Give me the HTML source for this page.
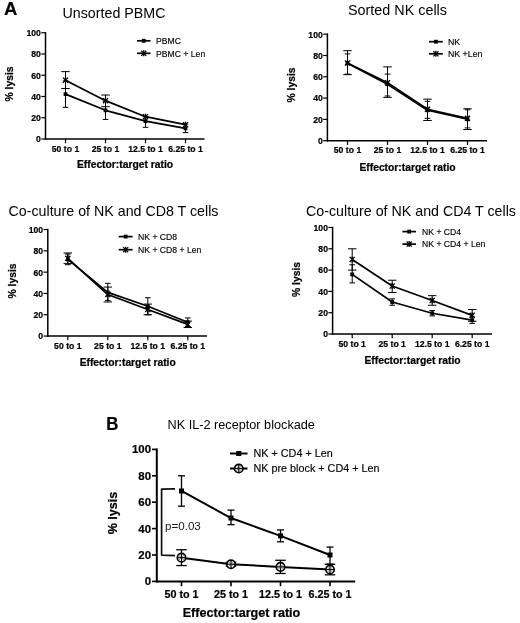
<!DOCTYPE html>
<html><head><meta charset="utf-8"><style>
text[font-weight="bold"]{stroke:#000;stroke-width:0.22px}
.lg{stroke:#000;stroke-width:0.15px}
html,body{margin:0;padding:0;background:#fff}
svg{display:block;font-family:"Liberation Sans", sans-serif;filter:grayscale(1)}
</style></head><body>
<svg width="520" height="623" viewBox="0 0 520 623">
<rect width="520" height="623" fill="#fff"/>
<line x1="45.50" y1="32.00" x2="45.50" y2="139.75" stroke="#000" stroke-width="1.5" stroke-linecap="butt"/>
<line x1="44.75" y1="139.00" x2="204.50" y2="139.00" stroke="#000" stroke-width="1.5" stroke-linecap="butt"/>
<line x1="41.25" y1="139.00" x2="45.50" y2="139.00" stroke="#000" stroke-width="1.2000000000000002" stroke-linecap="butt"/>
<text transform="translate(40.85,142.35) scale(0.93,1)" font-size="9.3" font-weight="bold" text-anchor="end" fill="#000">0</text>
<line x1="41.25" y1="117.75" x2="45.50" y2="117.75" stroke="#000" stroke-width="1.2000000000000002" stroke-linecap="butt"/>
<text transform="translate(40.85,121.10) scale(0.93,1)" font-size="9.3" font-weight="bold" text-anchor="end" fill="#000">20</text>
<line x1="41.25" y1="96.50" x2="45.50" y2="96.50" stroke="#000" stroke-width="1.2000000000000002" stroke-linecap="butt"/>
<text transform="translate(40.85,99.85) scale(0.93,1)" font-size="9.3" font-weight="bold" text-anchor="end" fill="#000">40</text>
<line x1="41.25" y1="75.25" x2="45.50" y2="75.25" stroke="#000" stroke-width="1.2000000000000002" stroke-linecap="butt"/>
<text transform="translate(40.85,78.60) scale(0.93,1)" font-size="9.3" font-weight="bold" text-anchor="end" fill="#000">60</text>
<line x1="41.25" y1="54.00" x2="45.50" y2="54.00" stroke="#000" stroke-width="1.2000000000000002" stroke-linecap="butt"/>
<text transform="translate(40.85,57.35) scale(0.93,1)" font-size="9.3" font-weight="bold" text-anchor="end" fill="#000">80</text>
<line x1="41.25" y1="32.75" x2="45.50" y2="32.75" stroke="#000" stroke-width="1.2000000000000002" stroke-linecap="butt"/>
<text transform="translate(40.85,36.10) scale(0.93,1)" font-size="9.3" font-weight="bold" text-anchor="end" fill="#000">100</text>
<line x1="65.50" y1="139.00" x2="65.50" y2="143.25" stroke="#000" stroke-width="1.2000000000000002" stroke-linecap="butt"/>
<text transform="translate(65.50,151.80) scale(0.93,1)" font-size="9.3" font-weight="bold" text-anchor="middle" fill="#000">50 to 1</text>
<line x1="105.50" y1="139.00" x2="105.50" y2="143.25" stroke="#000" stroke-width="1.2000000000000002" stroke-linecap="butt"/>
<text transform="translate(105.50,151.80) scale(0.93,1)" font-size="9.3" font-weight="bold" text-anchor="middle" fill="#000">25 to 1</text>
<line x1="145.50" y1="139.00" x2="145.50" y2="143.25" stroke="#000" stroke-width="1.2000000000000002" stroke-linecap="butt"/>
<text transform="translate(145.50,151.80) scale(0.93,1)" font-size="9.3" font-weight="bold" text-anchor="middle" fill="#000">12.5 to 1</text>
<line x1="185.50" y1="139.00" x2="185.50" y2="143.25" stroke="#000" stroke-width="1.2000000000000002" stroke-linecap="butt"/>
<text transform="translate(185.50,151.80) scale(0.93,1)" font-size="9.3" font-weight="bold" text-anchor="middle" fill="#000">6.25 to 1</text>
<text x="125.00" y="168.10" font-size="10.3" font-weight="bold" text-anchor="middle" fill="#000">Effector:target ratio</text>
<text transform="translate(13.00,84.00) rotate(-90)" font-size="10.3" font-weight="bold" text-anchor="middle">% lysis</text>
<line x1="65.50" y1="80.99" x2="65.50" y2="107.34" stroke="#000" stroke-width="1.0" stroke-linecap="butt"/>
<line x1="62.70" y1="80.99" x2="68.30" y2="80.99" stroke="#000" stroke-width="1.0" stroke-linecap="butt"/>
<line x1="62.70" y1="107.34" x2="68.30" y2="107.34" stroke="#000" stroke-width="1.0" stroke-linecap="butt"/>
<line x1="105.50" y1="101.17" x2="105.50" y2="119.45" stroke="#000" stroke-width="1.0" stroke-linecap="butt"/>
<line x1="102.70" y1="101.17" x2="108.30" y2="101.17" stroke="#000" stroke-width="1.0" stroke-linecap="butt"/>
<line x1="102.70" y1="119.45" x2="108.30" y2="119.45" stroke="#000" stroke-width="1.0" stroke-linecap="butt"/>
<line x1="145.50" y1="116.69" x2="145.50" y2="127.31" stroke="#000" stroke-width="1.0" stroke-linecap="butt"/>
<line x1="142.70" y1="116.69" x2="148.30" y2="116.69" stroke="#000" stroke-width="1.0" stroke-linecap="butt"/>
<line x1="142.70" y1="127.31" x2="148.30" y2="127.31" stroke="#000" stroke-width="1.0" stroke-linecap="butt"/>
<line x1="185.50" y1="124.12" x2="185.50" y2="132.62" stroke="#000" stroke-width="1.0" stroke-linecap="butt"/>
<line x1="182.70" y1="124.12" x2="188.30" y2="124.12" stroke="#000" stroke-width="1.0" stroke-linecap="butt"/>
<line x1="182.70" y1="132.62" x2="188.30" y2="132.62" stroke="#000" stroke-width="1.0" stroke-linecap="butt"/>
<polyline fill="none" stroke="#000" stroke-width="1.7" stroke-linejoin="round" points="65.50,94.16 105.50,110.31 145.50,121.15 185.50,128.38"/>
<rect x="63.60" y="92.26" width="3.8" height="3.8" fill="#000"/>
<rect x="103.60" y="108.41" width="3.8" height="3.8" fill="#000"/>
<rect x="143.60" y="119.25" width="3.8" height="3.8" fill="#000"/>
<rect x="183.60" y="126.47" width="3.8" height="3.8" fill="#000"/>
<line x1="65.50" y1="71.64" x2="65.50" y2="88.53" stroke="#000" stroke-width="1.0" stroke-linecap="butt"/>
<line x1="61.25" y1="71.64" x2="69.75" y2="71.64" stroke="#000" stroke-width="1.0" stroke-linecap="butt"/>
<line x1="61.25" y1="88.53" x2="69.75" y2="88.53" stroke="#000" stroke-width="1.0" stroke-linecap="butt"/>
<line x1="105.50" y1="95.01" x2="105.50" y2="106.70" stroke="#000" stroke-width="1.0" stroke-linecap="butt"/>
<line x1="101.25" y1="95.01" x2="109.75" y2="95.01" stroke="#000" stroke-width="1.0" stroke-linecap="butt"/>
<line x1="101.25" y1="106.70" x2="109.75" y2="106.70" stroke="#000" stroke-width="1.0" stroke-linecap="butt"/>
<polyline fill="none" stroke="#000" stroke-width="1.7" stroke-linejoin="round" points="65.50,80.14 105.50,100.64 145.50,116.69 185.50,124.66"/>
<line x1="65.50" y1="77.14" x2="65.50" y2="83.14" stroke="#000" stroke-width="1.3" stroke-linecap="butt"/>
<line x1="62.95" y1="77.59" x2="68.05" y2="82.69" stroke="#000" stroke-width="1.3" stroke-linecap="butt"/>
<line x1="62.95" y1="82.69" x2="68.05" y2="77.59" stroke="#000" stroke-width="1.3" stroke-linecap="butt"/>
<line x1="105.50" y1="97.64" x2="105.50" y2="103.64" stroke="#000" stroke-width="1.3" stroke-linecap="butt"/>
<line x1="102.95" y1="98.09" x2="108.05" y2="103.19" stroke="#000" stroke-width="1.3" stroke-linecap="butt"/>
<line x1="102.95" y1="103.19" x2="108.05" y2="98.09" stroke="#000" stroke-width="1.3" stroke-linecap="butt"/>
<line x1="145.50" y1="113.69" x2="145.50" y2="119.69" stroke="#000" stroke-width="1.3" stroke-linecap="butt"/>
<line x1="142.95" y1="114.14" x2="148.05" y2="119.24" stroke="#000" stroke-width="1.3" stroke-linecap="butt"/>
<line x1="142.95" y1="119.24" x2="148.05" y2="114.14" stroke="#000" stroke-width="1.3" stroke-linecap="butt"/>
<line x1="185.50" y1="121.66" x2="185.50" y2="127.66" stroke="#000" stroke-width="1.3" stroke-linecap="butt"/>
<line x1="182.95" y1="122.11" x2="188.05" y2="127.21" stroke="#000" stroke-width="1.3" stroke-linecap="butt"/>
<line x1="182.95" y1="127.21" x2="188.05" y2="122.11" stroke="#000" stroke-width="1.3" stroke-linecap="butt"/>
<line x1="137.00" y1="40.80" x2="150.50" y2="40.80" stroke="#000" stroke-width="1.7" stroke-linecap="butt"/>
<rect x="141.85" y="38.90" width="3.8" height="3.8" fill="#000"/>
<text transform="translate(156.00,44.18) scale(0.92,1)" font-size="9.4" font-weight="normal" text-anchor="start" fill="#000" class="lg">PBMC</text>
<line x1="137.00" y1="53.30" x2="150.50" y2="53.30" stroke="#000" stroke-width="1.7" stroke-linecap="butt"/>
<line x1="143.75" y1="50.30" x2="143.75" y2="56.30" stroke="#000" stroke-width="1.3" stroke-linecap="butt"/>
<line x1="141.20" y1="50.75" x2="146.30" y2="55.85" stroke="#000" stroke-width="1.3" stroke-linecap="butt"/>
<line x1="141.20" y1="55.85" x2="146.30" y2="50.75" stroke="#000" stroke-width="1.3" stroke-linecap="butt"/>
<text transform="translate(156.00,56.68) scale(0.92,1)" font-size="9.4" font-weight="normal" text-anchor="start" fill="#000" class="lg">PBMC + Len</text>
<line x1="327.40" y1="33.45" x2="327.40" y2="141.45" stroke="#000" stroke-width="1.5" stroke-linecap="butt"/>
<line x1="326.65" y1="140.70" x2="487.00" y2="140.70" stroke="#000" stroke-width="1.5" stroke-linecap="butt"/>
<line x1="323.15" y1="140.70" x2="327.40" y2="140.70" stroke="#000" stroke-width="1.2000000000000002" stroke-linecap="butt"/>
<text transform="translate(322.75,144.05) scale(0.93,1)" font-size="9.3" font-weight="bold" text-anchor="end" fill="#000">0</text>
<line x1="323.15" y1="119.40" x2="327.40" y2="119.40" stroke="#000" stroke-width="1.2000000000000002" stroke-linecap="butt"/>
<text transform="translate(322.75,122.75) scale(0.93,1)" font-size="9.3" font-weight="bold" text-anchor="end" fill="#000">20</text>
<line x1="323.15" y1="98.10" x2="327.40" y2="98.10" stroke="#000" stroke-width="1.2000000000000002" stroke-linecap="butt"/>
<text transform="translate(322.75,101.45) scale(0.93,1)" font-size="9.3" font-weight="bold" text-anchor="end" fill="#000">40</text>
<line x1="323.15" y1="76.80" x2="327.40" y2="76.80" stroke="#000" stroke-width="1.2000000000000002" stroke-linecap="butt"/>
<text transform="translate(322.75,80.15) scale(0.93,1)" font-size="9.3" font-weight="bold" text-anchor="end" fill="#000">60</text>
<line x1="323.15" y1="55.50" x2="327.40" y2="55.50" stroke="#000" stroke-width="1.2000000000000002" stroke-linecap="butt"/>
<text transform="translate(322.75,58.85) scale(0.93,1)" font-size="9.3" font-weight="bold" text-anchor="end" fill="#000">80</text>
<line x1="323.15" y1="34.20" x2="327.40" y2="34.20" stroke="#000" stroke-width="1.2000000000000002" stroke-linecap="butt"/>
<text transform="translate(322.75,37.55) scale(0.93,1)" font-size="9.3" font-weight="bold" text-anchor="end" fill="#000">100</text>
<line x1="347.50" y1="140.70" x2="347.50" y2="144.95" stroke="#000" stroke-width="1.2000000000000002" stroke-linecap="butt"/>
<text transform="translate(347.50,153.20) scale(0.93,1)" font-size="9.3" font-weight="bold" text-anchor="middle" fill="#000">50 to 1</text>
<line x1="387.50" y1="140.70" x2="387.50" y2="144.95" stroke="#000" stroke-width="1.2000000000000002" stroke-linecap="butt"/>
<text transform="translate(387.50,153.20) scale(0.93,1)" font-size="9.3" font-weight="bold" text-anchor="middle" fill="#000">25 to 1</text>
<line x1="427.50" y1="140.70" x2="427.50" y2="144.95" stroke="#000" stroke-width="1.2000000000000002" stroke-linecap="butt"/>
<text transform="translate(427.50,153.20) scale(0.93,1)" font-size="9.3" font-weight="bold" text-anchor="middle" fill="#000">12.5 to 1</text>
<line x1="467.50" y1="140.70" x2="467.50" y2="144.95" stroke="#000" stroke-width="1.2000000000000002" stroke-linecap="butt"/>
<text transform="translate(467.50,153.20) scale(0.93,1)" font-size="9.3" font-weight="bold" text-anchor="middle" fill="#000">6.25 to 1</text>
<text x="407.50" y="170.50" font-size="10.3" font-weight="bold" text-anchor="middle" fill="#000">Effector:target ratio</text>
<text transform="translate(294.50,85.00) rotate(-90)" font-size="10.3" font-weight="bold" text-anchor="middle">% lysis</text>
<line x1="347.50" y1="53.90" x2="347.50" y2="74.14" stroke="#000" stroke-width="1.0" stroke-linecap="butt"/>
<line x1="344.70" y1="53.90" x2="350.30" y2="53.90" stroke="#000" stroke-width="1.0" stroke-linecap="butt"/>
<line x1="344.70" y1="74.14" x2="350.30" y2="74.14" stroke="#000" stroke-width="1.0" stroke-linecap="butt"/>
<line x1="387.50" y1="74.14" x2="387.50" y2="95.97" stroke="#000" stroke-width="1.0" stroke-linecap="butt"/>
<line x1="384.70" y1="74.14" x2="390.30" y2="74.14" stroke="#000" stroke-width="1.0" stroke-linecap="butt"/>
<line x1="384.70" y1="95.97" x2="390.30" y2="95.97" stroke="#000" stroke-width="1.0" stroke-linecap="butt"/>
<line x1="427.50" y1="101.29" x2="427.50" y2="118.33" stroke="#000" stroke-width="1.0" stroke-linecap="butt"/>
<line x1="424.70" y1="101.29" x2="430.30" y2="101.29" stroke="#000" stroke-width="1.0" stroke-linecap="butt"/>
<line x1="424.70" y1="118.33" x2="430.30" y2="118.33" stroke="#000" stroke-width="1.0" stroke-linecap="butt"/>
<line x1="467.50" y1="109.81" x2="467.50" y2="127.92" stroke="#000" stroke-width="1.0" stroke-linecap="butt"/>
<line x1="464.70" y1="109.81" x2="470.30" y2="109.81" stroke="#000" stroke-width="1.0" stroke-linecap="butt"/>
<line x1="464.70" y1="127.92" x2="470.30" y2="127.92" stroke="#000" stroke-width="1.0" stroke-linecap="butt"/>
<polyline fill="none" stroke="#000" stroke-width="1.7" stroke-linejoin="round" points="347.50,63.27 387.50,84.25 427.50,110.24 467.50,119.29"/>
<rect x="345.60" y="61.37" width="3.8" height="3.8" fill="#000"/>
<rect x="385.60" y="82.35" width="3.8" height="3.8" fill="#000"/>
<rect x="425.60" y="108.34" width="3.8" height="3.8" fill="#000"/>
<rect x="465.60" y="117.39" width="3.8" height="3.8" fill="#000"/>
<line x1="347.50" y1="50.71" x2="347.50" y2="74.67" stroke="#000" stroke-width="1.0" stroke-linecap="butt"/>
<line x1="343.25" y1="50.71" x2="351.75" y2="50.71" stroke="#000" stroke-width="1.0" stroke-linecap="butt"/>
<line x1="343.25" y1="74.67" x2="351.75" y2="74.67" stroke="#000" stroke-width="1.0" stroke-linecap="butt"/>
<line x1="387.50" y1="66.90" x2="387.50" y2="97.35" stroke="#000" stroke-width="1.0" stroke-linecap="butt"/>
<line x1="383.25" y1="66.90" x2="391.75" y2="66.90" stroke="#000" stroke-width="1.0" stroke-linecap="butt"/>
<line x1="383.25" y1="97.35" x2="391.75" y2="97.35" stroke="#000" stroke-width="1.0" stroke-linecap="butt"/>
<line x1="427.50" y1="99.16" x2="427.50" y2="120.46" stroke="#000" stroke-width="1.0" stroke-linecap="butt"/>
<line x1="423.25" y1="99.16" x2="431.75" y2="99.16" stroke="#000" stroke-width="1.0" stroke-linecap="butt"/>
<line x1="423.25" y1="120.46" x2="431.75" y2="120.46" stroke="#000" stroke-width="1.0" stroke-linecap="butt"/>
<line x1="467.50" y1="108.75" x2="467.50" y2="129.52" stroke="#000" stroke-width="1.0" stroke-linecap="butt"/>
<line x1="463.25" y1="108.75" x2="471.75" y2="108.75" stroke="#000" stroke-width="1.0" stroke-linecap="butt"/>
<line x1="463.25" y1="129.52" x2="471.75" y2="129.52" stroke="#000" stroke-width="1.0" stroke-linecap="butt"/>
<polyline fill="none" stroke="#000" stroke-width="1.7" stroke-linejoin="round" points="347.50,62.95 387.50,82.66 427.50,109.28 467.50,118.33"/>
<line x1="347.50" y1="59.95" x2="347.50" y2="65.95" stroke="#000" stroke-width="1.3" stroke-linecap="butt"/>
<line x1="344.95" y1="60.41" x2="350.05" y2="65.50" stroke="#000" stroke-width="1.3" stroke-linecap="butt"/>
<line x1="344.95" y1="65.50" x2="350.05" y2="60.41" stroke="#000" stroke-width="1.3" stroke-linecap="butt"/>
<line x1="387.50" y1="79.66" x2="387.50" y2="85.66" stroke="#000" stroke-width="1.3" stroke-linecap="butt"/>
<line x1="384.95" y1="80.11" x2="390.05" y2="85.21" stroke="#000" stroke-width="1.3" stroke-linecap="butt"/>
<line x1="384.95" y1="85.21" x2="390.05" y2="80.11" stroke="#000" stroke-width="1.3" stroke-linecap="butt"/>
<line x1="427.50" y1="106.28" x2="427.50" y2="112.28" stroke="#000" stroke-width="1.3" stroke-linecap="butt"/>
<line x1="424.95" y1="106.73" x2="430.05" y2="111.83" stroke="#000" stroke-width="1.3" stroke-linecap="butt"/>
<line x1="424.95" y1="111.83" x2="430.05" y2="106.73" stroke="#000" stroke-width="1.3" stroke-linecap="butt"/>
<line x1="467.50" y1="115.33" x2="467.50" y2="121.33" stroke="#000" stroke-width="1.3" stroke-linecap="butt"/>
<line x1="464.95" y1="115.78" x2="470.05" y2="120.88" stroke="#000" stroke-width="1.3" stroke-linecap="butt"/>
<line x1="464.95" y1="120.88" x2="470.05" y2="115.78" stroke="#000" stroke-width="1.3" stroke-linecap="butt"/>
<line x1="429.00" y1="41.70" x2="442.80" y2="41.70" stroke="#000" stroke-width="1.7" stroke-linecap="butt"/>
<rect x="434.00" y="39.80" width="3.8" height="3.8" fill="#000"/>
<text transform="translate(447.90,45.16) scale(0.92,1)" font-size="9.6" font-weight="normal" text-anchor="start" fill="#000" class="lg">NK</text>
<line x1="429.00" y1="53.80" x2="442.80" y2="53.80" stroke="#000" stroke-width="1.7" stroke-linecap="butt"/>
<line x1="435.90" y1="50.80" x2="435.90" y2="56.80" stroke="#000" stroke-width="1.3" stroke-linecap="butt"/>
<line x1="433.35" y1="51.25" x2="438.45" y2="56.35" stroke="#000" stroke-width="1.3" stroke-linecap="butt"/>
<line x1="433.35" y1="56.35" x2="438.45" y2="51.25" stroke="#000" stroke-width="1.3" stroke-linecap="butt"/>
<text transform="translate(447.90,57.26) scale(0.92,1)" font-size="9.6" font-weight="normal" text-anchor="start" fill="#000" class="lg">NK +Len</text>
<line x1="47.80" y1="228.80" x2="47.80" y2="336.80" stroke="#000" stroke-width="1.5" stroke-linecap="butt"/>
<line x1="47.05" y1="336.05" x2="207.00" y2="336.05" stroke="#000" stroke-width="1.5" stroke-linecap="butt"/>
<line x1="43.55" y1="336.05" x2="47.80" y2="336.05" stroke="#000" stroke-width="1.2000000000000002" stroke-linecap="butt"/>
<text transform="translate(43.15,339.40) scale(0.93,1)" font-size="9.3" font-weight="bold" text-anchor="end" fill="#000">0</text>
<line x1="43.55" y1="314.75" x2="47.80" y2="314.75" stroke="#000" stroke-width="1.2000000000000002" stroke-linecap="butt"/>
<text transform="translate(43.15,318.10) scale(0.93,1)" font-size="9.3" font-weight="bold" text-anchor="end" fill="#000">20</text>
<line x1="43.55" y1="293.45" x2="47.80" y2="293.45" stroke="#000" stroke-width="1.2000000000000002" stroke-linecap="butt"/>
<text transform="translate(43.15,296.80) scale(0.93,1)" font-size="9.3" font-weight="bold" text-anchor="end" fill="#000">40</text>
<line x1="43.55" y1="272.15" x2="47.80" y2="272.15" stroke="#000" stroke-width="1.2000000000000002" stroke-linecap="butt"/>
<text transform="translate(43.15,275.50) scale(0.93,1)" font-size="9.3" font-weight="bold" text-anchor="end" fill="#000">60</text>
<line x1="43.55" y1="250.85" x2="47.80" y2="250.85" stroke="#000" stroke-width="1.2000000000000002" stroke-linecap="butt"/>
<text transform="translate(43.15,254.20) scale(0.93,1)" font-size="9.3" font-weight="bold" text-anchor="end" fill="#000">80</text>
<line x1="43.55" y1="229.55" x2="47.80" y2="229.55" stroke="#000" stroke-width="1.2000000000000002" stroke-linecap="butt"/>
<text transform="translate(43.15,232.90) scale(0.93,1)" font-size="9.3" font-weight="bold" text-anchor="end" fill="#000">100</text>
<line x1="67.80" y1="336.05" x2="67.80" y2="340.30" stroke="#000" stroke-width="1.2000000000000002" stroke-linecap="butt"/>
<text transform="translate(67.80,348.85) scale(0.93,1)" font-size="9.3" font-weight="bold" text-anchor="middle" fill="#000">50 to 1</text>
<line x1="107.80" y1="336.05" x2="107.80" y2="340.30" stroke="#000" stroke-width="1.2000000000000002" stroke-linecap="butt"/>
<text transform="translate(107.80,348.85) scale(0.93,1)" font-size="9.3" font-weight="bold" text-anchor="middle" fill="#000">25 to 1</text>
<line x1="147.80" y1="336.05" x2="147.80" y2="340.30" stroke="#000" stroke-width="1.2000000000000002" stroke-linecap="butt"/>
<text transform="translate(147.80,348.85) scale(0.93,1)" font-size="9.3" font-weight="bold" text-anchor="middle" fill="#000">12.5 to 1</text>
<line x1="187.80" y1="336.05" x2="187.80" y2="340.30" stroke="#000" stroke-width="1.2000000000000002" stroke-linecap="butt"/>
<text transform="translate(187.80,348.85) scale(0.93,1)" font-size="9.3" font-weight="bold" text-anchor="middle" fill="#000">6.25 to 1</text>
<text x="127.70" y="365.85" font-size="10.3" font-weight="bold" text-anchor="middle" fill="#000">Effector:target ratio</text>
<text transform="translate(16.00,281.00) rotate(-90)" font-size="10.3" font-weight="bold" text-anchor="middle">% lysis</text>
<line x1="67.80" y1="254.05" x2="67.80" y2="264.70" stroke="#000" stroke-width="1.0" stroke-linecap="butt"/>
<line x1="65.00" y1="254.05" x2="70.60" y2="254.05" stroke="#000" stroke-width="1.0" stroke-linecap="butt"/>
<line x1="65.00" y1="264.70" x2="70.60" y2="264.70" stroke="#000" stroke-width="1.0" stroke-linecap="butt"/>
<line x1="107.80" y1="283.33" x2="107.80" y2="300.37" stroke="#000" stroke-width="1.0" stroke-linecap="butt"/>
<line x1="105.00" y1="283.33" x2="110.60" y2="283.33" stroke="#000" stroke-width="1.0" stroke-linecap="butt"/>
<line x1="105.00" y1="300.37" x2="110.60" y2="300.37" stroke="#000" stroke-width="1.0" stroke-linecap="butt"/>
<line x1="147.80" y1="297.71" x2="147.80" y2="314.75" stroke="#000" stroke-width="1.0" stroke-linecap="butt"/>
<line x1="145.00" y1="297.71" x2="150.60" y2="297.71" stroke="#000" stroke-width="1.0" stroke-linecap="butt"/>
<line x1="145.00" y1="314.75" x2="150.60" y2="314.75" stroke="#000" stroke-width="1.0" stroke-linecap="butt"/>
<line x1="187.80" y1="317.94" x2="187.80" y2="326.47" stroke="#000" stroke-width="1.0" stroke-linecap="butt"/>
<line x1="185.00" y1="317.94" x2="190.60" y2="317.94" stroke="#000" stroke-width="1.0" stroke-linecap="butt"/>
<line x1="185.00" y1="326.47" x2="190.60" y2="326.47" stroke="#000" stroke-width="1.0" stroke-linecap="butt"/>
<polyline fill="none" stroke="#000" stroke-width="1.7" stroke-linejoin="round" points="67.80,259.37 107.80,292.38 147.80,306.23 187.80,322.21"/>
<rect x="65.90" y="257.47" width="3.8" height="3.8" fill="#000"/>
<rect x="105.90" y="290.49" width="3.8" height="3.8" fill="#000"/>
<rect x="145.90" y="304.33" width="3.8" height="3.8" fill="#000"/>
<rect x="185.90" y="320.31" width="3.8" height="3.8" fill="#000"/>
<line x1="67.80" y1="252.98" x2="67.80" y2="263.63" stroke="#000" stroke-width="1.0" stroke-linecap="butt"/>
<line x1="63.55" y1="252.98" x2="72.05" y2="252.98" stroke="#000" stroke-width="1.0" stroke-linecap="butt"/>
<line x1="63.55" y1="263.63" x2="72.05" y2="263.63" stroke="#000" stroke-width="1.0" stroke-linecap="butt"/>
<line x1="107.80" y1="287.06" x2="107.80" y2="301.97" stroke="#000" stroke-width="1.0" stroke-linecap="butt"/>
<line x1="103.55" y1="287.06" x2="112.05" y2="287.06" stroke="#000" stroke-width="1.0" stroke-linecap="butt"/>
<line x1="103.55" y1="301.97" x2="112.05" y2="301.97" stroke="#000" stroke-width="1.0" stroke-linecap="butt"/>
<line x1="147.80" y1="304.10" x2="147.80" y2="314.75" stroke="#000" stroke-width="1.0" stroke-linecap="butt"/>
<line x1="143.55" y1="304.10" x2="152.05" y2="304.10" stroke="#000" stroke-width="1.0" stroke-linecap="butt"/>
<line x1="143.55" y1="314.75" x2="152.05" y2="314.75" stroke="#000" stroke-width="1.0" stroke-linecap="butt"/>
<line x1="187.80" y1="321.14" x2="187.80" y2="327.53" stroke="#000" stroke-width="1.0" stroke-linecap="butt"/>
<line x1="183.55" y1="321.14" x2="192.05" y2="321.14" stroke="#000" stroke-width="1.0" stroke-linecap="butt"/>
<line x1="183.55" y1="327.53" x2="192.05" y2="327.53" stroke="#000" stroke-width="1.0" stroke-linecap="butt"/>
<polyline fill="none" stroke="#000" stroke-width="1.7" stroke-linejoin="round" points="67.80,258.31 107.80,294.51 147.80,309.43 187.80,324.34"/>
<line x1="67.80" y1="255.31" x2="67.80" y2="261.31" stroke="#000" stroke-width="1.3" stroke-linecap="butt"/>
<line x1="65.25" y1="255.75" x2="70.35" y2="260.86" stroke="#000" stroke-width="1.3" stroke-linecap="butt"/>
<line x1="65.25" y1="260.86" x2="70.35" y2="255.75" stroke="#000" stroke-width="1.3" stroke-linecap="butt"/>
<line x1="107.80" y1="291.51" x2="107.80" y2="297.51" stroke="#000" stroke-width="1.3" stroke-linecap="butt"/>
<line x1="105.25" y1="291.96" x2="110.35" y2="297.06" stroke="#000" stroke-width="1.3" stroke-linecap="butt"/>
<line x1="105.25" y1="297.06" x2="110.35" y2="291.96" stroke="#000" stroke-width="1.3" stroke-linecap="butt"/>
<line x1="147.80" y1="306.43" x2="147.80" y2="312.43" stroke="#000" stroke-width="1.3" stroke-linecap="butt"/>
<line x1="145.25" y1="306.88" x2="150.35" y2="311.98" stroke="#000" stroke-width="1.3" stroke-linecap="butt"/>
<line x1="145.25" y1="311.98" x2="150.35" y2="306.88" stroke="#000" stroke-width="1.3" stroke-linecap="butt"/>
<line x1="187.80" y1="321.34" x2="187.80" y2="327.34" stroke="#000" stroke-width="1.3" stroke-linecap="butt"/>
<line x1="185.25" y1="321.79" x2="190.35" y2="326.89" stroke="#000" stroke-width="1.3" stroke-linecap="butt"/>
<line x1="185.25" y1="326.89" x2="190.35" y2="321.79" stroke="#000" stroke-width="1.3" stroke-linecap="butt"/>
<line x1="118.70" y1="236.60" x2="132.60" y2="236.60" stroke="#000" stroke-width="1.7" stroke-linecap="butt"/>
<rect x="123.75" y="234.70" width="3.8" height="3.8" fill="#000"/>
<text transform="translate(138.00,239.98) scale(0.92,1)" font-size="9.4" font-weight="normal" text-anchor="start" fill="#000" class="lg">NK + CD8</text>
<line x1="118.70" y1="249.70" x2="132.60" y2="249.70" stroke="#000" stroke-width="1.7" stroke-linecap="butt"/>
<line x1="125.65" y1="246.70" x2="125.65" y2="252.70" stroke="#000" stroke-width="1.3" stroke-linecap="butt"/>
<line x1="123.10" y1="247.15" x2="128.20" y2="252.25" stroke="#000" stroke-width="1.3" stroke-linecap="butt"/>
<line x1="123.10" y1="252.25" x2="128.20" y2="247.15" stroke="#000" stroke-width="1.3" stroke-linecap="butt"/>
<text transform="translate(138.00,253.08) scale(0.92,1)" font-size="9.4" font-weight="normal" text-anchor="start" fill="#000" class="lg">NK + CD8 + Len</text>
<line x1="332.60" y1="226.75" x2="332.60" y2="334.75" stroke="#000" stroke-width="1.5" stroke-linecap="butt"/>
<line x1="331.85" y1="334.00" x2="492.00" y2="334.00" stroke="#000" stroke-width="1.5" stroke-linecap="butt"/>
<line x1="328.35" y1="334.00" x2="332.60" y2="334.00" stroke="#000" stroke-width="1.2000000000000002" stroke-linecap="butt"/>
<text transform="translate(327.95,337.35) scale(0.93,1)" font-size="9.3" font-weight="bold" text-anchor="end" fill="#000">0</text>
<line x1="328.35" y1="312.70" x2="332.60" y2="312.70" stroke="#000" stroke-width="1.2000000000000002" stroke-linecap="butt"/>
<text transform="translate(327.95,316.05) scale(0.93,1)" font-size="9.3" font-weight="bold" text-anchor="end" fill="#000">20</text>
<line x1="328.35" y1="291.40" x2="332.60" y2="291.40" stroke="#000" stroke-width="1.2000000000000002" stroke-linecap="butt"/>
<text transform="translate(327.95,294.75) scale(0.93,1)" font-size="9.3" font-weight="bold" text-anchor="end" fill="#000">40</text>
<line x1="328.35" y1="270.10" x2="332.60" y2="270.10" stroke="#000" stroke-width="1.2000000000000002" stroke-linecap="butt"/>
<text transform="translate(327.95,273.45) scale(0.93,1)" font-size="9.3" font-weight="bold" text-anchor="end" fill="#000">60</text>
<line x1="328.35" y1="248.80" x2="332.60" y2="248.80" stroke="#000" stroke-width="1.2000000000000002" stroke-linecap="butt"/>
<text transform="translate(327.95,252.15) scale(0.93,1)" font-size="9.3" font-weight="bold" text-anchor="end" fill="#000">80</text>
<line x1="328.35" y1="227.50" x2="332.60" y2="227.50" stroke="#000" stroke-width="1.2000000000000002" stroke-linecap="butt"/>
<text transform="translate(327.95,230.85) scale(0.93,1)" font-size="9.3" font-weight="bold" text-anchor="end" fill="#000">100</text>
<line x1="352.20" y1="334.00" x2="352.20" y2="338.25" stroke="#000" stroke-width="1.2000000000000002" stroke-linecap="butt"/>
<text transform="translate(352.20,347.00) scale(0.93,1)" font-size="9.3" font-weight="bold" text-anchor="middle" fill="#000">50 to 1</text>
<line x1="392.20" y1="334.00" x2="392.20" y2="338.25" stroke="#000" stroke-width="1.2000000000000002" stroke-linecap="butt"/>
<text transform="translate(392.20,347.00) scale(0.93,1)" font-size="9.3" font-weight="bold" text-anchor="middle" fill="#000">25 to 1</text>
<line x1="432.20" y1="334.00" x2="432.20" y2="338.25" stroke="#000" stroke-width="1.2000000000000002" stroke-linecap="butt"/>
<text transform="translate(432.20,347.00) scale(0.93,1)" font-size="9.3" font-weight="bold" text-anchor="middle" fill="#000">12.5 to 1</text>
<line x1="472.20" y1="334.00" x2="472.20" y2="338.25" stroke="#000" stroke-width="1.2000000000000002" stroke-linecap="butt"/>
<text transform="translate(472.20,347.00) scale(0.93,1)" font-size="9.3" font-weight="bold" text-anchor="middle" fill="#000">6.25 to 1</text>
<text x="412.50" y="363.80" font-size="10.3" font-weight="bold" text-anchor="middle" fill="#000">Effector:target ratio</text>
<text transform="translate(300.00,279.50) rotate(-90)" font-size="10.3" font-weight="bold" text-anchor="middle">% lysis</text>
<line x1="352.20" y1="264.77" x2="352.20" y2="282.88" stroke="#000" stroke-width="1.0" stroke-linecap="butt"/>
<line x1="349.40" y1="264.77" x2="355.00" y2="264.77" stroke="#000" stroke-width="1.0" stroke-linecap="butt"/>
<line x1="349.40" y1="282.88" x2="355.00" y2="282.88" stroke="#000" stroke-width="1.0" stroke-linecap="butt"/>
<line x1="392.20" y1="298.86" x2="392.20" y2="305.25" stroke="#000" stroke-width="1.0" stroke-linecap="butt"/>
<line x1="389.40" y1="298.86" x2="395.00" y2="298.86" stroke="#000" stroke-width="1.0" stroke-linecap="butt"/>
<line x1="389.40" y1="305.25" x2="395.00" y2="305.25" stroke="#000" stroke-width="1.0" stroke-linecap="butt"/>
<line x1="432.20" y1="310.57" x2="432.20" y2="315.89" stroke="#000" stroke-width="1.0" stroke-linecap="butt"/>
<line x1="429.40" y1="310.57" x2="435.00" y2="310.57" stroke="#000" stroke-width="1.0" stroke-linecap="butt"/>
<line x1="429.40" y1="315.89" x2="435.00" y2="315.89" stroke="#000" stroke-width="1.0" stroke-linecap="butt"/>
<line x1="472.20" y1="316.96" x2="472.20" y2="323.35" stroke="#000" stroke-width="1.0" stroke-linecap="butt"/>
<line x1="469.40" y1="316.96" x2="475.00" y2="316.96" stroke="#000" stroke-width="1.0" stroke-linecap="butt"/>
<line x1="469.40" y1="323.35" x2="475.00" y2="323.35" stroke="#000" stroke-width="1.0" stroke-linecap="butt"/>
<polyline fill="none" stroke="#000" stroke-width="1.7" stroke-linejoin="round" points="352.20,274.36 392.20,302.05 432.20,313.23 472.20,320.15"/>
<rect x="350.30" y="272.46" width="3.8" height="3.8" fill="#000"/>
<rect x="390.30" y="300.15" width="3.8" height="3.8" fill="#000"/>
<rect x="430.30" y="311.33" width="3.8" height="3.8" fill="#000"/>
<rect x="470.30" y="318.25" width="3.8" height="3.8" fill="#000"/>
<line x1="352.20" y1="248.80" x2="352.20" y2="270.10" stroke="#000" stroke-width="1.0" stroke-linecap="butt"/>
<line x1="347.95" y1="248.80" x2="356.45" y2="248.80" stroke="#000" stroke-width="1.0" stroke-linecap="butt"/>
<line x1="347.95" y1="270.10" x2="356.45" y2="270.10" stroke="#000" stroke-width="1.0" stroke-linecap="butt"/>
<line x1="392.20" y1="280.22" x2="392.20" y2="292.47" stroke="#000" stroke-width="1.0" stroke-linecap="butt"/>
<line x1="387.95" y1="280.22" x2="396.45" y2="280.22" stroke="#000" stroke-width="1.0" stroke-linecap="butt"/>
<line x1="387.95" y1="292.47" x2="396.45" y2="292.47" stroke="#000" stroke-width="1.0" stroke-linecap="butt"/>
<line x1="432.20" y1="295.66" x2="432.20" y2="305.25" stroke="#000" stroke-width="1.0" stroke-linecap="butt"/>
<line x1="427.95" y1="295.66" x2="436.45" y2="295.66" stroke="#000" stroke-width="1.0" stroke-linecap="butt"/>
<line x1="427.95" y1="305.25" x2="436.45" y2="305.25" stroke="#000" stroke-width="1.0" stroke-linecap="butt"/>
<line x1="472.20" y1="309.50" x2="472.20" y2="321.22" stroke="#000" stroke-width="1.0" stroke-linecap="butt"/>
<line x1="467.95" y1="309.50" x2="476.45" y2="309.50" stroke="#000" stroke-width="1.0" stroke-linecap="butt"/>
<line x1="467.95" y1="321.22" x2="476.45" y2="321.22" stroke="#000" stroke-width="1.0" stroke-linecap="butt"/>
<polyline fill="none" stroke="#000" stroke-width="1.7" stroke-linejoin="round" points="352.20,259.45 392.20,286.07 432.20,300.45 472.20,315.36"/>
<line x1="352.20" y1="256.45" x2="352.20" y2="262.45" stroke="#000" stroke-width="1.3" stroke-linecap="butt"/>
<line x1="349.65" y1="256.90" x2="354.75" y2="262.00" stroke="#000" stroke-width="1.3" stroke-linecap="butt"/>
<line x1="349.65" y1="262.00" x2="354.75" y2="256.90" stroke="#000" stroke-width="1.3" stroke-linecap="butt"/>
<line x1="392.20" y1="283.07" x2="392.20" y2="289.07" stroke="#000" stroke-width="1.3" stroke-linecap="butt"/>
<line x1="389.65" y1="283.52" x2="394.75" y2="288.62" stroke="#000" stroke-width="1.3" stroke-linecap="butt"/>
<line x1="389.65" y1="288.62" x2="394.75" y2="283.52" stroke="#000" stroke-width="1.3" stroke-linecap="butt"/>
<line x1="432.20" y1="297.45" x2="432.20" y2="303.45" stroke="#000" stroke-width="1.3" stroke-linecap="butt"/>
<line x1="429.65" y1="297.90" x2="434.75" y2="303.00" stroke="#000" stroke-width="1.3" stroke-linecap="butt"/>
<line x1="429.65" y1="303.00" x2="434.75" y2="297.90" stroke="#000" stroke-width="1.3" stroke-linecap="butt"/>
<line x1="472.20" y1="312.36" x2="472.20" y2="318.36" stroke="#000" stroke-width="1.3" stroke-linecap="butt"/>
<line x1="469.65" y1="312.81" x2="474.75" y2="317.91" stroke="#000" stroke-width="1.3" stroke-linecap="butt"/>
<line x1="469.65" y1="317.91" x2="474.75" y2="312.81" stroke="#000" stroke-width="1.3" stroke-linecap="butt"/>
<line x1="402.40" y1="231.60" x2="416.00" y2="231.60" stroke="#000" stroke-width="1.7" stroke-linecap="butt"/>
<rect x="407.30" y="229.70" width="3.8" height="3.8" fill="#000"/>
<text transform="translate(422.00,234.98) scale(0.92,1)" font-size="9.4" font-weight="normal" text-anchor="start" fill="#000" class="lg">NK + CD4</text>
<line x1="402.40" y1="244.10" x2="416.00" y2="244.10" stroke="#000" stroke-width="1.7" stroke-linecap="butt"/>
<line x1="409.20" y1="241.10" x2="409.20" y2="247.10" stroke="#000" stroke-width="1.3" stroke-linecap="butt"/>
<line x1="406.65" y1="241.55" x2="411.75" y2="246.65" stroke="#000" stroke-width="1.3" stroke-linecap="butt"/>
<line x1="406.65" y1="246.65" x2="411.75" y2="241.55" stroke="#000" stroke-width="1.3" stroke-linecap="butt"/>
<text transform="translate(422.00,247.48) scale(0.92,1)" font-size="9.4" font-weight="normal" text-anchor="start" fill="#000" class="lg">NK + CD4 + Len</text>
<line x1="156.80" y1="448.40" x2="156.80" y2="582.40" stroke="#000" stroke-width="2" stroke-linecap="butt"/>
<line x1="155.80" y1="581.40" x2="355.20" y2="581.40" stroke="#000" stroke-width="2" stroke-linecap="butt"/>
<line x1="152.00" y1="581.40" x2="156.80" y2="581.40" stroke="#000" stroke-width="1.6" stroke-linecap="butt"/>
<text transform="translate(151.00,585.36) scale(1.04,1)" font-size="11" font-weight="bold" text-anchor="end" fill="#000">0</text>
<line x1="152.00" y1="555.00" x2="156.80" y2="555.00" stroke="#000" stroke-width="1.6" stroke-linecap="butt"/>
<text transform="translate(151.00,558.96) scale(1.04,1)" font-size="11" font-weight="bold" text-anchor="end" fill="#000">20</text>
<line x1="152.00" y1="528.60" x2="156.80" y2="528.60" stroke="#000" stroke-width="1.6" stroke-linecap="butt"/>
<text transform="translate(151.00,532.56) scale(1.04,1)" font-size="11" font-weight="bold" text-anchor="end" fill="#000">40</text>
<line x1="152.00" y1="502.20" x2="156.80" y2="502.20" stroke="#000" stroke-width="1.6" stroke-linecap="butt"/>
<text transform="translate(151.00,506.16) scale(1.04,1)" font-size="11" font-weight="bold" text-anchor="end" fill="#000">60</text>
<line x1="152.00" y1="475.80" x2="156.80" y2="475.80" stroke="#000" stroke-width="1.6" stroke-linecap="butt"/>
<text transform="translate(151.00,479.76) scale(1.04,1)" font-size="11" font-weight="bold" text-anchor="end" fill="#000">80</text>
<line x1="152.00" y1="449.40" x2="156.80" y2="449.40" stroke="#000" stroke-width="1.6" stroke-linecap="butt"/>
<text transform="translate(151.00,453.36) scale(1.04,1)" font-size="11" font-weight="bold" text-anchor="end" fill="#000">100</text>
<line x1="181.50" y1="581.40" x2="181.50" y2="586.20" stroke="#000" stroke-width="1.6" stroke-linecap="butt"/>
<text transform="translate(181.50,598.00) scale(0.98,1)" font-size="11" font-weight="bold" text-anchor="middle" fill="#000">50 to 1</text>
<line x1="231.00" y1="581.40" x2="231.00" y2="586.20" stroke="#000" stroke-width="1.6" stroke-linecap="butt"/>
<text transform="translate(231.00,598.00) scale(0.98,1)" font-size="11" font-weight="bold" text-anchor="middle" fill="#000">25 to 1</text>
<line x1="280.50" y1="581.40" x2="280.50" y2="586.20" stroke="#000" stroke-width="1.6" stroke-linecap="butt"/>
<text transform="translate(280.50,598.00) scale(0.98,1)" font-size="11" font-weight="bold" text-anchor="middle" fill="#000">12.5 to 1</text>
<line x1="330.00" y1="581.40" x2="330.00" y2="586.20" stroke="#000" stroke-width="1.6" stroke-linecap="butt"/>
<text transform="translate(330.00,598.00) scale(0.98,1)" font-size="11" font-weight="bold" text-anchor="middle" fill="#000">6.25 to 1</text>
<text x="241.50" y="617.40" font-size="12.6" font-weight="bold" text-anchor="middle" fill="#000">Effector:target ratio</text>
<text transform="translate(117.00,513.00) rotate(-90)" font-size="12.6" font-weight="bold" text-anchor="middle">% lysis</text>
<line x1="181.50" y1="475.80" x2="181.50" y2="506.16" stroke="#000" stroke-width="1.3" stroke-linecap="butt"/>
<line x1="178.00" y1="475.80" x2="185.00" y2="475.80" stroke="#000" stroke-width="1.3" stroke-linecap="butt"/>
<line x1="178.00" y1="506.16" x2="185.00" y2="506.16" stroke="#000" stroke-width="1.3" stroke-linecap="butt"/>
<line x1="231.00" y1="510.12" x2="231.00" y2="524.64" stroke="#000" stroke-width="1.3" stroke-linecap="butt"/>
<line x1="227.50" y1="510.12" x2="234.50" y2="510.12" stroke="#000" stroke-width="1.3" stroke-linecap="butt"/>
<line x1="227.50" y1="524.64" x2="234.50" y2="524.64" stroke="#000" stroke-width="1.3" stroke-linecap="butt"/>
<line x1="280.50" y1="529.92" x2="280.50" y2="541.80" stroke="#000" stroke-width="1.3" stroke-linecap="butt"/>
<line x1="277.00" y1="529.92" x2="284.00" y2="529.92" stroke="#000" stroke-width="1.3" stroke-linecap="butt"/>
<line x1="277.00" y1="541.80" x2="284.00" y2="541.80" stroke="#000" stroke-width="1.3" stroke-linecap="butt"/>
<line x1="330.00" y1="547.08" x2="330.00" y2="564.24" stroke="#000" stroke-width="1.3" stroke-linecap="butt"/>
<line x1="326.50" y1="547.08" x2="333.50" y2="547.08" stroke="#000" stroke-width="1.3" stroke-linecap="butt"/>
<line x1="326.50" y1="564.24" x2="333.50" y2="564.24" stroke="#000" stroke-width="1.3" stroke-linecap="butt"/>
<polyline fill="none" stroke="#000" stroke-width="2" stroke-linejoin="round" points="181.50,490.98 231.00,518.04 280.50,535.86 330.00,555.00"/>
<rect x="179.00" y="488.48" width="5" height="5" fill="#000"/>
<rect x="228.50" y="515.54" width="5" height="5" fill="#000"/>
<rect x="278.00" y="533.36" width="5" height="5" fill="#000"/>
<rect x="327.50" y="552.50" width="5" height="5" fill="#000"/>
<line x1="181.50" y1="549.72" x2="181.50" y2="565.56" stroke="#000" stroke-width="1.3" stroke-linecap="butt"/>
<line x1="176.25" y1="549.72" x2="186.75" y2="549.72" stroke="#000" stroke-width="1.3" stroke-linecap="butt"/>
<line x1="176.25" y1="565.56" x2="186.75" y2="565.56" stroke="#000" stroke-width="1.3" stroke-linecap="butt"/>
<line x1="231.00" y1="562.26" x2="231.00" y2="566.22" stroke="#000" stroke-width="1.3" stroke-linecap="butt"/>
<line x1="225.75" y1="562.26" x2="236.25" y2="562.26" stroke="#000" stroke-width="1.3" stroke-linecap="butt"/>
<line x1="225.75" y1="566.22" x2="236.25" y2="566.22" stroke="#000" stroke-width="1.3" stroke-linecap="butt"/>
<line x1="280.50" y1="560.28" x2="280.50" y2="573.48" stroke="#000" stroke-width="1.3" stroke-linecap="butt"/>
<line x1="275.25" y1="560.28" x2="285.75" y2="560.28" stroke="#000" stroke-width="1.3" stroke-linecap="butt"/>
<line x1="275.25" y1="573.48" x2="285.75" y2="573.48" stroke="#000" stroke-width="1.3" stroke-linecap="butt"/>
<line x1="330.00" y1="564.24" x2="330.00" y2="574.80" stroke="#000" stroke-width="1.3" stroke-linecap="butt"/>
<line x1="324.75" y1="564.24" x2="335.25" y2="564.24" stroke="#000" stroke-width="1.3" stroke-linecap="butt"/>
<line x1="324.75" y1="574.80" x2="335.25" y2="574.80" stroke="#000" stroke-width="1.3" stroke-linecap="butt"/>
<polyline fill="none" stroke="#000" stroke-width="2" stroke-linejoin="round" points="181.50,557.64 231.00,564.24 280.50,566.88 330.00,569.52"/>
<circle cx="181.50" cy="557.64" r="4.2" fill="#fff" stroke="#000" stroke-width="1.7"/>
<line x1="181.50" y1="553.44" x2="181.50" y2="561.84" stroke="#000" stroke-width="1.2" stroke-linecap="butt"/>
<line x1="177.30" y1="557.64" x2="185.70" y2="557.64" stroke="#000" stroke-width="1.2" stroke-linecap="butt"/>
<line x1="178.56" y1="554.70" x2="184.44" y2="560.58" stroke="#444" stroke-width="0.6" stroke-linecap="butt"/>
<line x1="178.56" y1="560.58" x2="184.44" y2="554.70" stroke="#444" stroke-width="0.6" stroke-linecap="butt"/>
<circle cx="231.00" cy="564.24" r="4.2" fill="#fff" stroke="#000" stroke-width="1.7"/>
<line x1="231.00" y1="560.04" x2="231.00" y2="568.44" stroke="#000" stroke-width="1.2" stroke-linecap="butt"/>
<line x1="226.80" y1="564.24" x2="235.20" y2="564.24" stroke="#000" stroke-width="1.2" stroke-linecap="butt"/>
<line x1="228.06" y1="561.30" x2="233.94" y2="567.18" stroke="#444" stroke-width="0.6" stroke-linecap="butt"/>
<line x1="228.06" y1="567.18" x2="233.94" y2="561.30" stroke="#444" stroke-width="0.6" stroke-linecap="butt"/>
<circle cx="280.50" cy="566.88" r="4.2" fill="#fff" stroke="#000" stroke-width="1.7"/>
<line x1="280.50" y1="562.68" x2="280.50" y2="571.08" stroke="#000" stroke-width="1.2" stroke-linecap="butt"/>
<line x1="276.30" y1="566.88" x2="284.70" y2="566.88" stroke="#000" stroke-width="1.2" stroke-linecap="butt"/>
<line x1="277.56" y1="563.94" x2="283.44" y2="569.82" stroke="#444" stroke-width="0.6" stroke-linecap="butt"/>
<line x1="277.56" y1="569.82" x2="283.44" y2="563.94" stroke="#444" stroke-width="0.6" stroke-linecap="butt"/>
<circle cx="330.00" cy="569.52" r="4.2" fill="#fff" stroke="#000" stroke-width="1.7"/>
<line x1="330.00" y1="565.32" x2="330.00" y2="573.72" stroke="#000" stroke-width="1.2" stroke-linecap="butt"/>
<line x1="325.80" y1="569.52" x2="334.20" y2="569.52" stroke="#000" stroke-width="1.2" stroke-linecap="butt"/>
<line x1="327.06" y1="566.58" x2="332.94" y2="572.46" stroke="#444" stroke-width="0.6" stroke-linecap="butt"/>
<line x1="327.06" y1="572.46" x2="332.94" y2="566.58" stroke="#444" stroke-width="0.6" stroke-linecap="butt"/>
<line x1="230.00" y1="453.50" x2="247.50" y2="453.50" stroke="#000" stroke-width="2" stroke-linecap="butt"/>
<rect x="236.25" y="451.00" width="5" height="5" fill="#000"/>
<text x="253.50" y="457.39" font-size="10.8" font-weight="normal" text-anchor="start" fill="#000" class="lg">NK + CD4 + Len</text>
<line x1="230.00" y1="468.50" x2="247.50" y2="468.50" stroke="#000" stroke-width="2" stroke-linecap="butt"/>
<circle cx="238.75" cy="468.50" r="4.2" fill="#fff" stroke="#000" stroke-width="1.7"/>
<line x1="238.75" y1="464.30" x2="238.75" y2="472.70" stroke="#000" stroke-width="1.2" stroke-linecap="butt"/>
<line x1="234.55" y1="468.50" x2="242.95" y2="468.50" stroke="#000" stroke-width="1.2" stroke-linecap="butt"/>
<line x1="235.81" y1="465.56" x2="241.69" y2="471.44" stroke="#444" stroke-width="0.6" stroke-linecap="butt"/>
<line x1="235.81" y1="471.44" x2="241.69" y2="465.56" stroke="#444" stroke-width="0.6" stroke-linecap="butt"/>
<text x="253.50" y="472.39" font-size="10.8" font-weight="normal" text-anchor="start" fill="#000" class="lg">NK pre block + CD4 + Len</text>
<text x="62.50" y="17.50" font-size="14.4" font-weight="normal" text-anchor="start" fill="#000" textLength="103" lengthAdjust="spacingAndGlyphs">Unsorted PBMC</text>
<text x="348.00" y="15.20" font-size="14.4" font-weight="normal" text-anchor="start" fill="#000" textLength="99" lengthAdjust="spacingAndGlyphs">Sorted NK cells</text>
<text x="8.50" y="216.40" font-size="14.4" font-weight="normal" text-anchor="start" fill="#000" textLength="210" lengthAdjust="spacingAndGlyphs">Co-culture of NK and CD8 T cells</text>
<text x="306.00" y="216.00" font-size="14.4" font-weight="normal" text-anchor="start" fill="#000" textLength="210" lengthAdjust="spacingAndGlyphs">Co-culture of NK and CD4 T cells</text>
<text x="4.00" y="15.30" font-size="18.5" font-weight="bold" text-anchor="start" fill="#000">A</text>
<text transform="translate(106.30,429.70) scale(0.96,1)" font-size="17.5" font-weight="bold" text-anchor="start" fill="#000">B</text>
<text x="167.50" y="429.20" font-size="12.7" font-weight="normal" text-anchor="start" fill="#000">NK IL-2 receptor blockade</text>
<path d="M175,488.8 L161.6,489.2 L161.6,555.1 L175,555.6" fill="none" stroke="#111" stroke-width="1.7" stroke-linejoin="round"/>
<text x="165.00" y="530.20" font-size="11.6" font-weight="normal" text-anchor="start" fill="#1a1a1a">p=0.03</text>
</svg></body></html>
